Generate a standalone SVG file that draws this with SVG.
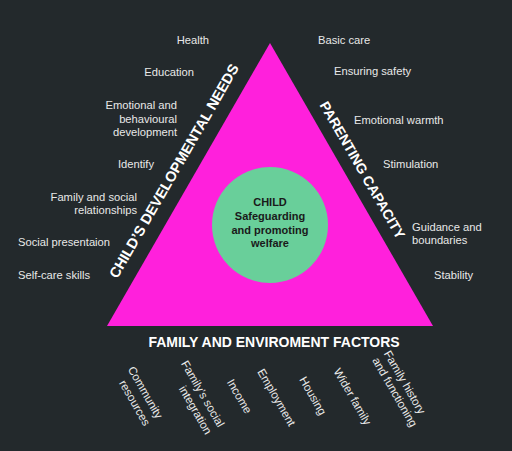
<svg xmlns="http://www.w3.org/2000/svg" width="512" height="451" viewBox="0 0 512 451">
<style>
.lbl{font-family:"Liberation Sans",Arial,sans-serif;font-size:11.2px;fill:#e8e8e8}
.blbl{font-family:"Liberation Sans",Arial,sans-serif;font-size:11.5px;fill:#e8e8e8}
.head{font-family:"Liberation Sans",Arial,sans-serif;font-size:14px;font-weight:bold;fill:#ffffff}
.ctr{font-family:"Liberation Sans",Arial,sans-serif;font-size:11px;font-weight:bold;fill:#1a1a1a}
</style>
<rect width="512" height="451" fill="#23292c"/>
<g id="triangle"><polygon points="270,43 107,326 433,326" fill="#ff20dc"/></g>
<g id="child"><circle cx="270" cy="225" r="58" fill="#69cf9a"/>
<text class="ctr" text-anchor="middle"><tspan x="270" y="206">CHILD</tspan><tspan x="270" y="220">Safeguarding</tspan><tspan x="270" y="233.5">and promoting</tspan><tspan x="270" y="247">welfare</tspan></text></g>
<g id="child-needs">
<text class="head" transform="translate(174,171) rotate(-60)" text-anchor="middle" y="5" style="font-size:14.5px">CHILD’S DEVELOPMENTAL NEEDS</text>
<text class="lbl" text-anchor="end" x="209" y="44">Health</text>
<text class="lbl" text-anchor="end" x="194" y="76">Education</text>
<text class="lbl" text-anchor="end"><tspan x="177" y="109">Emotional and</tspan><tspan x="177" y="122.5">behavioural</tspan><tspan x="177" y="136">development</tspan></text>
<text class="lbl" text-anchor="end" x="154" y="168">Identify</text>
<text class="lbl" text-anchor="end"><tspan x="137" y="201">Family and social</tspan><tspan x="137" y="214">relationships</tspan></text>
<text class="lbl" x="18" y="246">Social presentaion</text>
<text class="lbl" x="18" y="279">Self-care skills</text>
</g>
<g id="parenting">
<text class="head" transform="translate(362.5,170) rotate(60)" text-anchor="middle" y="5">PARENTING CAPACITY</text>
<text class="lbl" x="318" y="44">Basic care</text>
<text class="lbl" x="334" y="75">Ensuring safety</text>
<text class="lbl" x="354" y="124">Emotional warmth</text>
<text class="lbl" x="383" y="168">Stimulation</text>
<text class="lbl"><tspan x="412" y="231">Guidance and</tspan><tspan x="412" y="244">boundaries</tspan></text>
<text class="lbl" x="434" y="279">Stability</text>
</g>
<g id="family">
<text class="head" text-anchor="middle" x="274" y="347">FAMILY AND ENVIROMENT FACTORS</text>
<text class="blbl" text-anchor="end" transform="translate(156.5,419.5) rotate(60)"><tspan x="0" y="0">Community</tspan><tspan x="0" y="14.5">resources</tspan></text>
<text class="blbl" text-anchor="end" transform="translate(218,428) rotate(60)"><tspan x="0" y="0">Family’s social</tspan><tspan x="0" y="14.5">integration</tspan></text>
<text class="blbl" text-anchor="end" transform="translate(245.4,414.6) rotate(60)">Income</text>
<text class="blbl" text-anchor="end" transform="translate(289,427) rotate(60)">Employment</text>
<text class="blbl" text-anchor="end" transform="translate(320,416) rotate(60)">Housing</text>
<text class="blbl" text-anchor="end" transform="translate(365,426) rotate(60)">Wider family</text>
<text class="blbl" transform="translate(383.6,353.5) rotate(60)"><tspan x="0" y="0">Family history</tspan><tspan x="0" y="13.5">and functioning</tspan></text>
</g>
<g id="connectors"/>
</svg>
